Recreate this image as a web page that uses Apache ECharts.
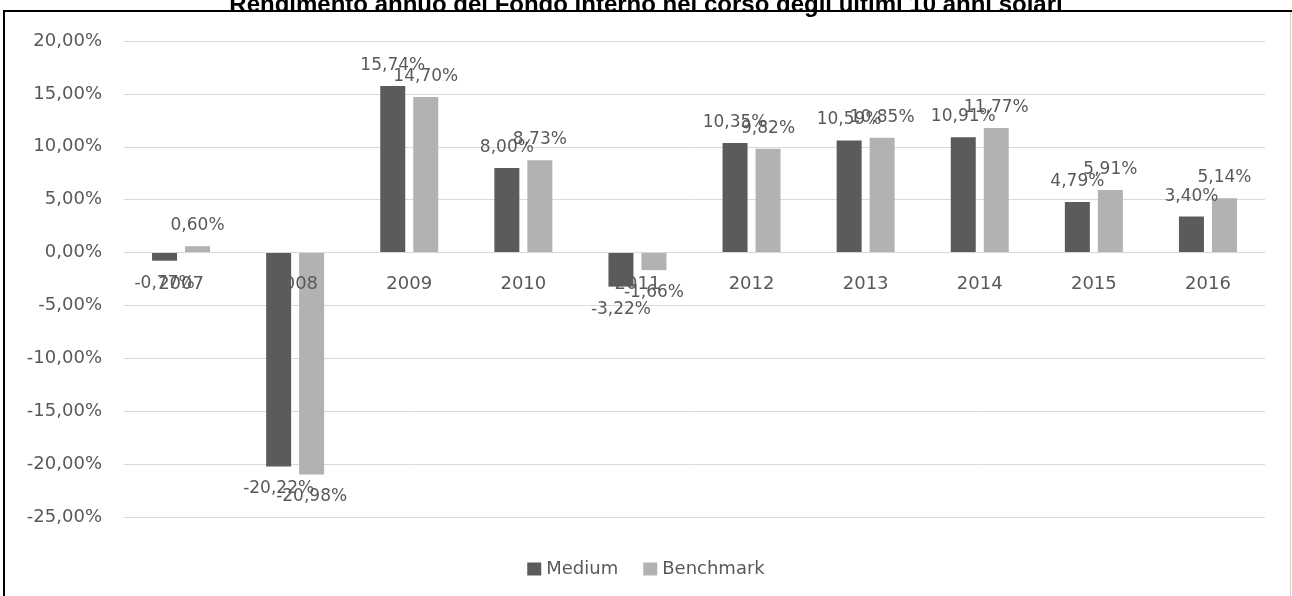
<!DOCTYPE html>
<html>
<head>
<meta charset="utf-8">
<title>Rendimento annuo del Fondo interno</title>
<script src="https://cdn.jsdelivr.net/npm/echarts@6/dist/echarts.min.js"></script>
<style>
  html, body { margin: 0; padding: 0; background: #ffffff; }
  #chart { width: 1292px; height: 596px; }
</style>
</head>
<body>
<div id="chart"></div>
<script>
// Annual returns (%) of the internal fund and its benchmark
const years = ['2007', '2008', '2009', '2010', '2011', '2012', '2013', '2014', '2015', '2016'];
const medium = [-0.77, -20.22, 15.74, 8.00, -3.22, 10.35, 10.59, 10.91, 4.79, 3.40];
const benchmark = [0.60, -20.98, 14.70, 8.73, -1.66, 9.82, 10.85, 11.77, 5.91, 5.14];
const seriesNames = ['Medium', 'Benchmark'];
const titleText = 'Rendimento annuo del Fondo interno nel corso degli ultimi 10 anni solari';

const textColor = '#595959';
const font = 'DejaVu Sans';

// Value axis range and plot box
const yMin = -25, yMax = 20, yStep = 5;
const gridTop = 41, gridBottom = 79, chartHeight = 596;

function pct(v) {
  return v.toFixed(2).replace('.', ',') + '%';
}

// Labels sit outside the end of each bar: above positive bars, below negative ones
function withLabels(values) {
  return values.map(v => ({
    value: v,
    label: {
      position: v < 0 ? 'bottom' : 'top',
      distance: v < 0 ? 14 : 12
    }
  }));
}

// The category axis crosses the value axis at zero: shift it up from the grid bottom
const plotHeight = chartHeight - gridTop - gridBottom;
const zeroShift = plotHeight * (0 - yMin) / (yMax - yMin);

const chart = echarts.init(document.getElementById('chart'), null, { renderer: 'canvas' });

chart.setOption({
  animation: false,
  backgroundColor: '#ffffff',
  title: {
    text: titleText,
    left: 'center',
    top: -12,
    textStyle: {
      fontFamily: 'Liberation Sans',
      fontWeight: 'bold',
      fontSize: 24,
      color: '#000000'
    }
  },
  legend: {
    data: seriesNames,
    left: 'center',
    top: 555,
    itemWidth: 14,
    itemHeight: 13,
    itemGap: 25,
    icon: 'rect',
    textStyle: { fontFamily: font, fontSize: 18, color: textColor }
  },
  grid: {
    left: 124,
    right: 27,
    top: gridTop,
    bottom: gridBottom,
    containLabel: false
  },
  xAxis: {
    type: 'category',
    data: years,
    position: 'bottom',
    offset: -zeroShift,
    z: 5,
    axisTick: { show: false },
    axisLine: { onZero: false, lineStyle: { color: '#d9d9d9', width: 1 } },
    axisLabel: { fontFamily: font, fontSize: 18, color: textColor, margin: 23 },
    splitLine: { show: false }
  },
  yAxis: {
    type: 'value',
    min: yMin,
    max: yMax,
    interval: yStep,
    axisLine: { show: false },
    axisTick: { show: false },
    axisLabel: {
      fontFamily: font,
      fontSize: 18,
      color: textColor,
      margin: 22,
      formatter: v => pct(v)
    },
    splitLine: { lineStyle: { color: '#d9d9d9', width: 1 } }
  },
  series: [
    {
      name: seriesNames[0],
      type: 'bar',
      data: withLabels(medium),
      barWidth: 25,
      barGap: '32%',
      itemStyle: { color: '#5b5b5b' },
      label: {
        show: true,
        fontFamily: font,
        fontSize: 17,
        color: textColor,
        formatter: p => pct(p.value)
      }
    },
    {
      name: seriesNames[1],
      type: 'bar',
      data: withLabels(benchmark),
      barWidth: 25,
      barGap: '32%',
      itemStyle: { color: '#b2b2b2' },
      label: {
        show: true,
        fontFamily: font,
        fontSize: 17,
        color: textColor,
        formatter: p => pct(p.value)
      }
    }
  ],
  // Frame around the chart area
  graphic: [
    { type: 'line', z: 100, shape: { x1: 4, y1: 11, x2: 1292, y2: 11 }, style: { stroke: '#000000', lineWidth: 2 } },
    { type: 'line', z: 100, shape: { x1: 4, y1: 10, x2: 4, y2: 596 }, style: { stroke: '#000000', lineWidth: 2 } },
    { type: 'line', z: 100, shape: { x1: 1290.5, y1: 12, x2: 1290.5, y2: 596 }, style: { stroke: '#d0d0d0', lineWidth: 1 } }
  ]
});
</script>
</body>
</html>
